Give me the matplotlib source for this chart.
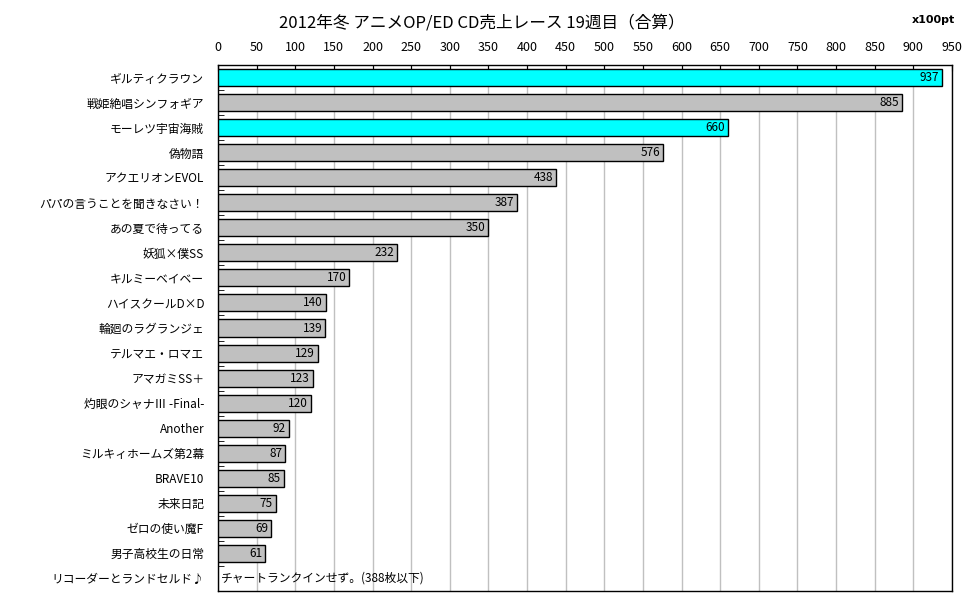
import matplotlib
matplotlib.use("Agg")
import matplotlib.pyplot as plt
import numpy as np

plt.rcParams['font.family'] = ['Noto Sans CJK JP', 'DejaVu Sans']

# データ（単位: x100pt）
titulos = ["ギルティクラウン", "戦姫絶唱シンフォギア", "モーレツ宇宙海賊", "偽物語",
           "アクエリオンEVOL", "パパの言うことを聞きなさい！", "あの夏で待ってる",
           "妖狐×僕SS", "キルミーベイベー", "ハイスクールD×D", "輪廻のラグランジェ",
           "テルマエ・ロマエ", "アマガミSS＋", "灼眼のシャナⅢ -Final-", "Another",
           "ミルキィホームズ第2幕", "BRAVE10", "未来日記", "ゼロの使い魔F",
           "男子高校生の日常", "リコーダーとランドセルド♪"]
valores = [937, 885, 660, 576, 438, 387, 350, 232, 170, 140, 139,
           129, 123, 120, 92, 87, 85, 75, 69, 61, None]
resaltados = [0, 2]  # barras en cian
nota_fuera = "チャートランクインせず。(388枚以下)"
x_ticks = list(range(0, 951, 50))

fig = plt.figure(figsize=(9.7, 6.04), dpi=100)
ax = fig.add_axes([218 / 970, 1 - 591 / 604, (952 - 218) / 970, (591 - 65) / 604])

filas = np.arange(len(titulos))
for i, v in enumerate(valores):
    if v is None:
        ax.text(4, i, nota_fuera, ha='left', va='center', fontsize=8.5)
        continue
    color = '#00FFFF' if i in resaltados else '#C0C0C0'
    ax.barh(i, v, height=0.68, color=color, edgecolor='black', linewidth=1, zorder=3)
    ax.text(v - 4, i, str(v), ha='right', va='center', fontsize=8.5, zorder=4)

ax.set_xlim(0, 950)
ax.set_ylim(len(titulos) - 0.5, -0.5)

ax.set_xticks(x_ticks)
ax.xaxis.tick_top()
ax.tick_params(axis='x', direction='in', length=4, pad=8, labelsize=9)
ax.grid(axis='x', color='#C0C0C0', linewidth=1, zorder=0)

ax.set_yticks(filas)
ax.set_yticklabels(titulos)
ax.set_yticks(filas[:-1] + 0.5, minor=True)
ax.tick_params(axis='y', which='major', length=0, pad=10, labelsize=8.5)
ax.tick_params(axis='y', which='minor', direction='in', length=4)

for s in ax.spines.values():
    s.set_linewidth(1)
    s.set_color('black')

fig.text(0.497, 1 - 23 / 604, "2012年冬 アニメOP/ED CD売上レース 19週目（合算）",
         ha='center', va='center', fontsize=12)
fig.text(955 / 970, 1 - 20 / 604, "x100pt", ha='right', va='center',
         fontsize=8, fontweight='bold', family='DejaVu Sans')

fig.savefig("out.png", dpi=100)
